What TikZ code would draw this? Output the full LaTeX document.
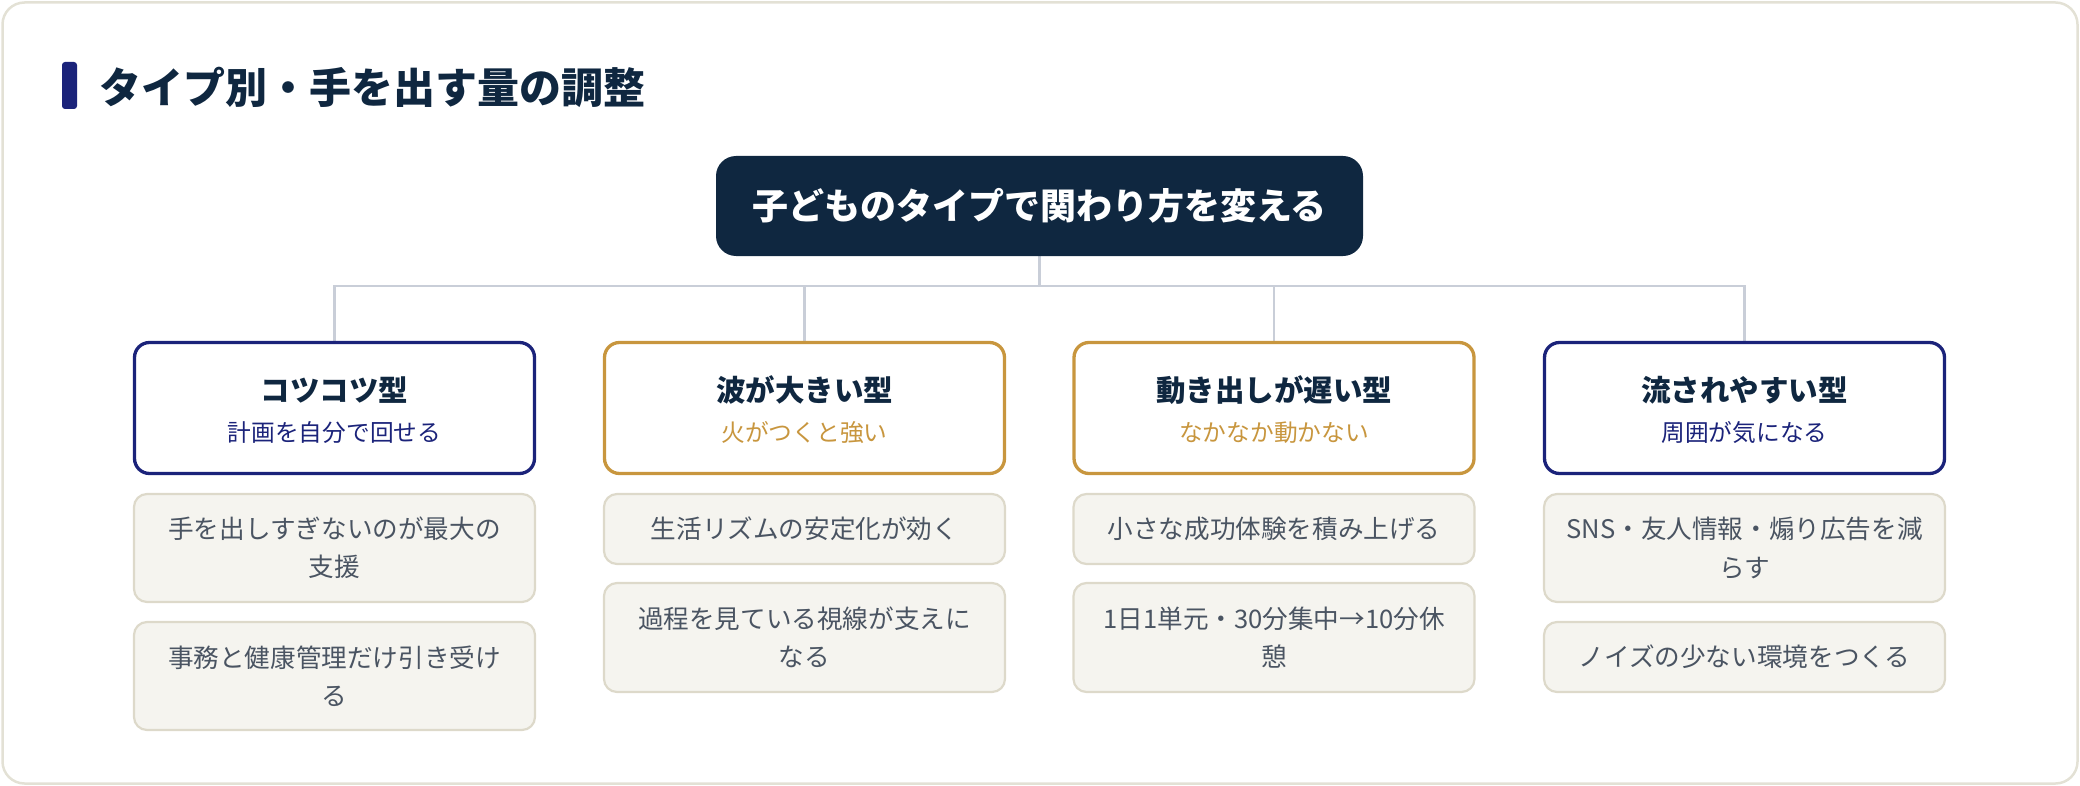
\documentclass[tikz,border=0pt]{standalone}
\usepackage{fontspec}
\setmainfont{Noto Sans CJK JP}
\usetikzlibrary{calc}
\pgfdeclarelayer{background}
\pgfsetlayers{background,main}
\definecolor{navy}{HTML}{1B237A}
\definecolor{ink}{HTML}{0F2740}
\definecolor{gold}{HTML}{C8963E}
\definecolor{itemfill}{HTML}{F5F4EF}
\definecolor{itemline}{HTML}{DDD9CA}
\definecolor{itemtext}{HTML}{4A5462}
\definecolor{connc}{HTML}{C9CED8}
\definecolor{framec}{HTML}{E3E1D5}
\tikzset{
  framebox/.style={draw=framec, line width=1.25pt, rounded corners=11pt,
    minimum width=1037.5pt, minimum height=390.5pt, inner sep=0pt},
  titlebar/.style={fill=navy, minimum width=7.5pt, minimum height=23.5pt, rounded corners=1.5pt, inner sep=0pt},
  titletext/.style={anchor=west, inner sep=0pt, text=ink, font=\fontsize{21pt}{25pt}\selectfont\bfseries},
  mainbox/.style={fill=ink, rounded corners=10pt, minimum width=323.5pt, minimum height=50pt,
    inner sep=0pt, text=white, font=\fontsize{18pt}{22pt}\selectfont\bfseries},
  typebox/.style={line width=1.65pt, fill=white, rounded corners=7.5pt,
    minimum width=200pt, minimum height=65.5pt, inner sep=0pt},
  tytitle/.style={inner sep=0pt, text=ink, font=\fontsize{14.75pt}{18pt}\selectfont\bfseries},
  tysub/.style={inner sep=0pt, font=\fontsize{11.85pt}{14pt}\selectfont},
  itembox/.style={draw=itemline, line width=1.1pt, fill=itemfill, rounded corners=6.5pt,
    minimum width=200.5pt, inner sep=0pt, align=center, text=itemtext,
    font=\fontsize{12.8pt}{19.2pt}\selectfont},
  connline/.style={draw=connc, line width=1.4pt},
}
\begin{document}
\begin{tikzpicture}[x=0.5pt,y=-0.5pt]
\useasboundingbox (0,0) rectangle (2080,786);
\node[framebox] (frame) at (1040,393) {};
\node[titlebar] (bar) at (69.5,85.5) {};
\node[titletext] (title) at (99,87) {タイプ別・手を出す量の調整};
\node[mainbox] (main) at (1039.5,206) {子どものタイプで関わり方を変える};

% type boxes
\node[typebox, draw=navy] (t1) at (334.5,408) {};
\node[typebox, draw=gold] (t2) at (804.5,408) {};
\node[typebox, draw=gold] (t3) at (1274,408) {};
\node[typebox, draw=navy] (t4) at (1744.5,408) {};

\node[tytitle] (t1h) at (334.5,390) {コツコツ型};
\node[tysub, text=navy] (t1s) at (334.5,433) {計画を自分で回せる};
\node[tytitle] (t2h) at (804.5,390) {波が大きい型};
\node[tysub, text=gold] (t2s) at (804.5,433) {火がつくと強い};
\node[tytitle] (t3h) at (1274,390) {動き出しが遅い型};
\node[tysub, text=gold] (t3s) at (1274,433) {なかなか動かない};
\node[tytitle] (t4h) at (1744.5,390) {流されやすい型};
\node[tysub, text=navy] (t4s) at (1744.5,433) {周囲が気になる};

% items
\node[itembox, minimum height=54pt] (i1a) at (334.5,548) {手を出しすぎないのが最大の\\支援};
\node[itembox, minimum height=54pt] (i1b) at (334.5,676) {事務と健康管理だけ引き受け\\る};
\node[itembox, minimum height=35pt] (i2a) at (804.5,529) {生活リズムの安定化が効く};
\node[itembox, minimum height=54.5pt] (i2b) at (804.5,637.5) {過程を見ている視線が支えに\\なる};
\node[itembox, minimum height=35pt] (i3a) at (1274,529) {小さな成功体験を積み上げる};
\node[itembox, minimum height=54.5pt] (i3b) at (1274,637.5) {1日1単元・30分集中→10分休\\憩};
\node[itembox, minimum height=54pt] (i4a) at (1744.5,548) {SNS・友人情報・煽り広告を減\\らす};
\node[itembox, minimum height=35pt] (i4b) at (1744.5,657) {ノイズの少ない環境をつくる};

% connectors
\coordinate (hub) at (1039.5,286);
\begin{pgfonlayer}{background}
\draw[connline] (main.south) -- (hub);
\draw[connline] (t1.north) -- (t1.north |- hub) -- (t4.north |- hub) -- (t4.north);
\draw[connline] (t2.north) -- (t2.north |- hub);
\draw[connline] (t3.north) -- (t3.north |- hub);
\end{pgfonlayer}
\end{tikzpicture}
\end{document}
